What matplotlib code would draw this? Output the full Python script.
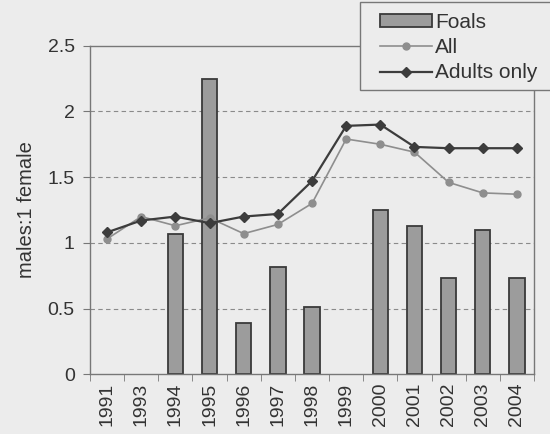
import numpy as np
import matplotlib
matplotlib.use('Agg')
import matplotlib.pyplot as plt
from matplotlib.patches import Rectangle

years = ['1991', '1993', '1994', '1995', '1996', '1997', '1998',
         '1999', '2000', '2001', '2002', '2003', '2004']
# no foal bar in 1991, 1993 and 1999
foals = [None, None, 1.07, 2.25, 0.39, 0.82, 0.51, None, 1.25, 1.13, 0.73,
         1.10, 0.73]
all_ratio = [1.03, 1.20, 1.13, 1.19, 1.07, 1.14, 1.30, 1.79, 1.75, 1.69,
             1.46, 1.38, 1.37]
adults = [1.08, 1.17, 1.20, 1.15, 1.20, 1.22, 1.47, 1.89, 1.90, 1.73,
          1.72, 1.72, 1.72]

plt.rcParams['font.family'] = ['Liberation Sans', 'DejaVu Sans']
bg = '#ececec'

fig = plt.figure(figsize=(5.5, 4.34), dpi=100, facecolor=bg)
ax = fig.add_axes([0.1636, 0.1376, 0.971 - 0.1636, 0.8947 - 0.1376])
ax.set_facecolor(bg)

x = np.arange(len(years))
fh = np.array([np.nan if v is None else v for v in foals])
bars = ax.bar(x, fh, width=0.45, color='#9c9c9c', edgecolor='#3a3a3a',
              linewidth=1.3, label='Foals', zorder=2)
l1, = ax.plot(x, all_ratio, color='#8e8e8e', marker='o', markersize=5,
              linewidth=1.2, label='All', zorder=3)
l2, = ax.plot(x, adults, color='#3c3c3c', marker='D', markersize=5,
              linewidth=1.6, label='Adults only', zorder=4)

ax.set_xlim(-0.5, len(years) - 0.5)
ax.set_ylim(0, 2.5)
ax.set_yticks([0, 0.5, 1, 1.5, 2, 2.5])
ax.set_yticklabels(['0', '0.5', '1', '1.5', '2', '2.5'], fontsize=14,
                   color='#333333')
ax.set_xticks(x)
ax.set_xticklabels(years, rotation=90, fontsize=14, color='#333333')
ax.tick_params(axis='x', which='major', length=0, pad=6)
ax.set_xticks(np.arange(-0.5, len(years)), minor=True)
ax.tick_params(axis='x', which='minor', length=5, color='#777777')
ax.tick_params(axis='y', length=5, color='#777777', pad=6)

for v in [0.5, 1, 1.5, 2]:
    ax.axhline(v, color='#8a8a8a', linestyle=(0, (4, 3)), linewidth=0.8,
               zorder=1)

for s in ax.spines.values():
    s.set_color('#777777')
    s.set_linewidth(1.0)

ax.set_ylabel('males:1 female', fontsize=14.5, color='#333333', labelpad=8)

# legend box (runs off the right edge like the original)
W, H = 550, 434
box = Rectangle((360 / W, 1 - 90 / H), 200 / W, 88 / H,
                transform=fig.transFigure, facecolor=bg,
                edgecolor='#777777', linewidth=1.0, zorder=5)
fig.patches.append(box)

leg = fig.legend([bars, l1, l2], ['Foals', 'All', 'Adults only'],
                 loc='upper left', bbox_to_anchor=(380 / W, 1 - 13 / H),
                 borderaxespad=0, borderpad=0, frameon=False,
                 fontsize=15, handlelength=2.5, handleheight=0.55,
                 handletextpad=0.15, labelspacing=0.3)
leg.set_zorder(6)
for t in leg.get_texts():
    t.set_color('#333333')

fig.savefig('out.png', dpi=100, facecolor=bg)
